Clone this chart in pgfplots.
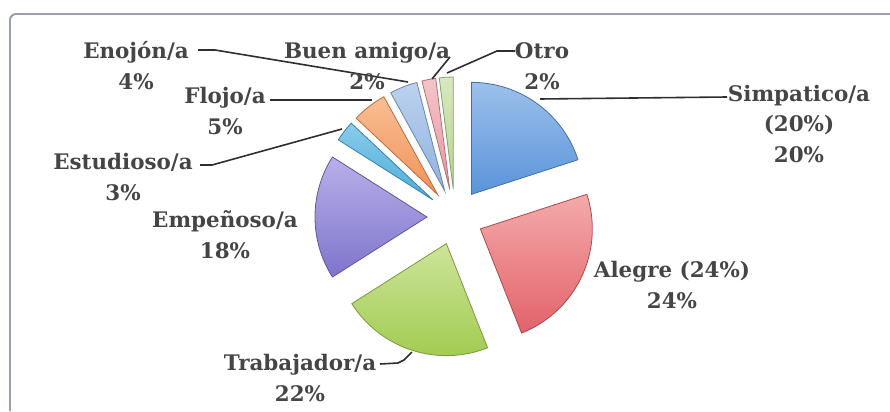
\documentclass[border=0pt]{standalone}
\usepackage{pgfplots}
\pgfplotsset{compat=1.18}
\usepackage{fontspec}
\setmainfont{DejaVu Serif}
\definecolor{txt}{HTML}{454545}
\definecolor{lead}{HTML}{2E2E2E}
\definecolor{frame}{HTML}{9AA0B2}
\definecolor{cA}{HTML}{5A94DB}\definecolor{cAl}{HTML}{9CC0EA}
\definecolor{cB}{HTML}{E2626A}\definecolor{cBl}{HTML}{F4AAAA}
\definecolor{cC}{HTML}{A2CC52}\definecolor{cCl}{HTML}{CDE49A}
\definecolor{cD}{HTML}{7E74CC}\definecolor{cDl}{HTML}{B8B0EA}
\definecolor{cE}{HTML}{4AAEDB}\definecolor{cEl}{HTML}{8ACBEA}
\definecolor{cF}{HTML}{F29257}\definecolor{cFl}{HTML}{F8BE94}
\definecolor{cG}{HTML}{8FB2E0}\definecolor{cGl}{HTML}{BCD2EE}
\definecolor{cH}{HTML}{E897A0}\definecolor{cHl}{HTML}{F4C4C8}
\definecolor{cI}{HTML}{B5D38C}\definecolor{cIl}{HTML}{D8E8C0}
\tikzset{lbl/.style={font=\fontsize{21.5}{31}\selectfont\bfseries, text=txt, align=center, inner sep=0pt}}
% #1 cumulative start (%), #2 share (%), #3 colour, #4 light colour
\newcommand{\slice}[4]{%
  \pgfmathsetmacro\aS{90-3.6*#1}%
  \pgfmathsetmacro\aE{90-3.6*(#1+#2)}%
  \pgfmathsetmacro\aM{(\aS+\aE)/2}%
  \pgfmathsetmacro\ox{455+28*cos(\aM)}%
  \pgfmathsetmacro\oy{217-28*sin(\aM)}%
  \edef\doslice{\noexpand\addplot[draw=#3!75!black, line width=0.8pt,
     top color=#4, bottom color=#3, domain=\aE:\aS, samples=60, variable=\noexpand\t]
     ({\ox+112*cos(\noexpand\t)},{\oy-112*sin(\noexpand\t)}) -- (axis cs:\ox,\oy) -- cycle;}%
  \doslice
}
\begin{document}
\begin{tikzpicture}
\begin{axis}[
  width=890bp, height=411bp, scale only axis,
  xmin=0, xmax=890, ymin=0, ymax=411, y dir=reverse,
  hide axis, clip=false,
]
% frame
\addplot[draw=frame, line width=2pt, rounded corners=6pt] coordinates {(10,411) (10,14) (890,14)};
% slices: Simpatico 20, Alegre 24, Trabajador 22, Empenoso 18, Estudioso 3, Flojo 5, Enojon 4, Buen amigo 2, Otro 2
\slice{0}{20}{cA}{cAl}
\slice{20}{24}{cB}{cBl}
\slice{44}{22}{cC}{cCl}
\slice{66}{18}{cD}{cDl}
\slice{84}{3}{cE}{cEl}
\slice{87}{5}{cF}{cFl}
\slice{92}{4}{cG}{cGl}
\slice{96}{2}{cH}{cHl}
\slice{98}{2}{cI}{cIl}
% leader lines
\addplot[draw=lead, line width=1.6pt] coordinates {(198,50) (215,50) (408,82)};
\addplot[draw=lead, line width=1.6pt] coordinates {(432,79) (450,57)};
\addplot[draw=lead, line width=1.6pt] coordinates {(447,73) (497,51) (515,51)};
\addplot[draw=lead, line width=1.6pt] coordinates {(540,99) (727,97)};
\addplot[draw=lead, line width=1.6pt] coordinates {(270,100) (372,100)};
\addplot[draw=lead, line width=1.6pt] coordinates {(200,165) (212,165) (342,129)};
\addplot[draw=lead, line width=1.6pt] coordinates {(380,364) (398,363) (404,360) (412,352)};
% labels
\node[lbl] at (axis cs:136,66) {Enojón/a\\4\%};
\node[lbl] at (axis cs:367,66) {Buen amigo/a\\2\%};
\node[lbl] at (axis cs:542,66) {Otro\\2\%};
\node[lbl] at (axis cs:799,124) {Simpatico/a\\(20\%)\\20\%};
\node[lbl] at (axis cs:225,111) {Flojo/a\\5\%};
\node[lbl] at (axis cs:123,177) {Estudioso/a\\3\%};
\node[lbl] at (axis cs:225,235) {Empeñoso/a\\18\%};
\node[lbl] at (axis cs:672,285) {Alegre (24\%)\\24\%};
\node[lbl] at (axis cs:300,378) {Trabajador/a\\22\%};
\end{axis}
\pgfresetboundingbox
\path[use as bounding box] (current axis.south west) rectangle (current axis.north east);
\end{tikzpicture}
\end{document}
